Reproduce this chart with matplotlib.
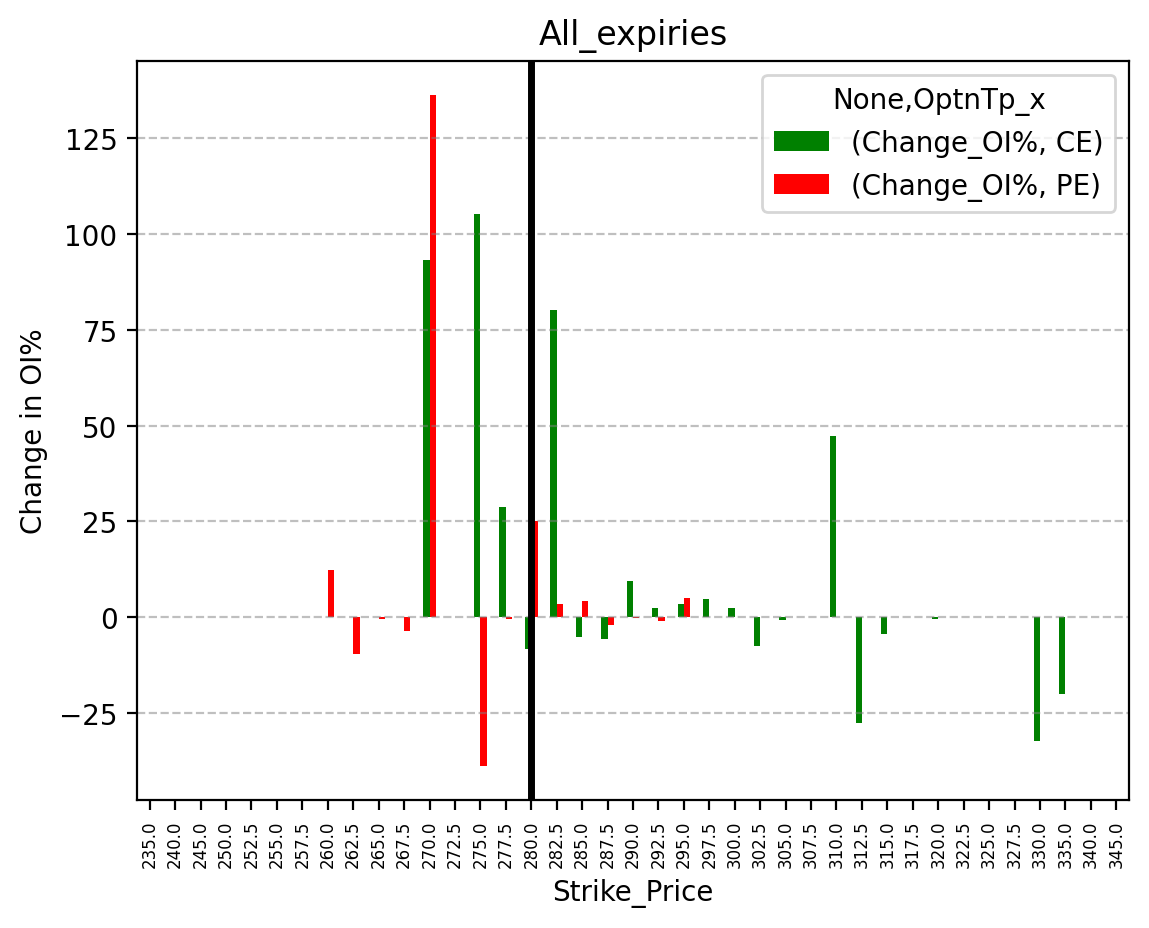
import numpy as np
import pandas as pd
import matplotlib
matplotlib.use("Agg")
import matplotlib.pyplot as plt

nan = np.nan

# strike prices on the x axis
strikes = [235.0, 240.0, 245.0, 250.0, 252.5, 255.0, 257.5, 260.0, 262.5, 265.0,
           267.5, 270.0, 272.5, 275.0, 277.5, 280.0, 282.5, 285.0, 287.5, 290.0,
           292.5, 295.0, 297.5, 300.0, 302.5, 305.0, 307.5, 310.0, 312.5, 315.0,
           317.5, 320.0, 322.5, 325.0, 327.5, 330.0, 335.0, 340.0, 345.0]

# change in OI% for calls (CE)
ce_change = [nan, nan, nan, nan, nan, nan, nan, nan, nan, nan,
             nan, 93.2, nan, 105.2, 28.8, -8.3, 80.2, -5.2, -5.7, 9.3,
             2.3, 3.3, 4.6, 2.3, -7.5, -0.8, nan, 47.3, -27.6, -4.4,
             nan, -0.5, nan, nan, nan, -32.3, -20.1, nan, nan]

# change in OI% for puts (PE)
pe_change = [nan, nan, nan, nan, nan, nan, nan, 12.2, -9.6, -0.6,
             -3.7, 136.4, nan, -39.0, -0.6, 25.2, 3.3, 4.1, -2.1, -0.3,
             -1.0, 4.9, nan, nan, nan, nan, nan, nan, nan, nan,
             nan, nan, nan, nan, nan, nan, nan, nan, nan]

spot_strike = 280.0

cols = pd.MultiIndex.from_tuples([("Change_OI%", "CE"), ("Change_OI%", "PE")],
                                 names=[None, "OptnTp_x"])
df = pd.DataFrame(np.column_stack([ce_change, pe_change]),
                  index=pd.Index(strikes, name="Strike_Price"), columns=cols)

fig = plt.figure(figsize=(1149 / 200, 929 / 200), dpi=200)
ax = fig.add_axes([137 / 1149, 128 / 929, 992 / 1149, 739 / 929])

df.plot(kind="bar", ax=ax, color=["green", "red"])

ax.axvline(x=strikes.index(spot_strike), color="black", linewidth=2.5)

ax.set_title("All_expiries")
ax.set_ylabel("Change in OI%")
ax.set_xlabel("Strike_Price")
ax.tick_params(axis="x", labelsize=6)
ax.grid(axis="y", linestyle="--", color="gray", alpha=0.5)
ax.legend(title="None,OptnTp_x", loc="upper right")

fig.savefig("out.png", dpi=200)
